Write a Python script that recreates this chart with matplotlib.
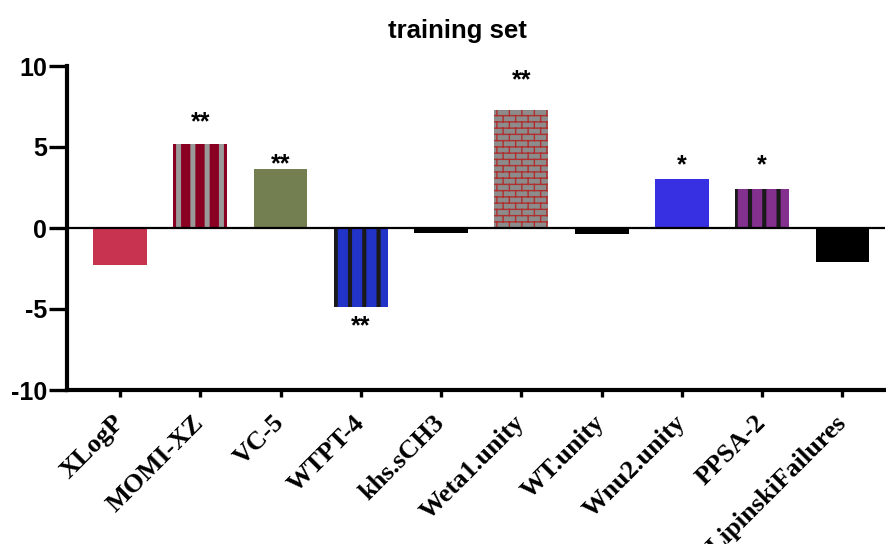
import warnings
import numpy as np
import matplotlib
matplotlib.use('Agg')
import matplotlib.pyplot as plt
from matplotlib import hatch as mhatch
from matplotlib.path import Path

warnings.filterwarnings('ignore')
plt.rcParams['axes.unicode_minus']=False

names=['XLogP','MOMI-XZ','VC-5','WTPT-4','khs.sCH3','Weta1.unity','WT.unity','Wnu2.unity','PPSA-2','LipinskiFailures']
values=[-2.3,5.2,3.65,-4.9,-0.3,7.3,-0.35,3.0,2.4,-2.1]
stars=['','**','**','**','','**','','*','*','']
star_y=[0,6.5,3.95,-6.05,0,9.1,0,3.9,3.9,0]

fills=['#C8344F','#8A0022','#737F50','#2233C8','#000000','#8C8C8C','#000000','#3730E2','#84308F','#000000']
patterns=[None,'k',None,'k',None,'b',None,None,'k',None]
pat_colors=[None,'#9A9A9A',None,'#1A1A1A',None,'#B03030',None,None,'#1A1A1A',None]
pat_widths=[0,3.6,0,3.0,0,1.0,0,0,3.0,0]


# vertical stripes, 7 per hatch tile
class Stripes(mhatch.HatchPatternBase):
    def __init__(self,hatch,density):
        self.n=7 if 'k' in hatch else 0
        self.num_vertices=self.n*2
    def set_vertices_and_codes(self,vertices,codes):
        x=(np.arange(self.n)+0.5)/self.n
        vertices[0::2,0]=x
        vertices[0::2,1]=0
        vertices[1::2,0]=x
        vertices[1::2,1]=1
        codes[0::2]=Path.MOVETO
        codes[1::2]=Path.LINETO


# brick wall pattern
class Bricks(mhatch.HatchPatternBase):
    rows=16
    cols=8
    def __init__(self,hatch,density):
        self.on='b' in hatch
        self.num_vertices=(self.rows*2+self.rows*self.cols*2+self.cols*2) if self.on else 0
    def set_vertices_and_codes(self,vertices,codes):
        segs=[]
        for i in range(self.rows):
            y=(i+0.5)/self.rows
            segs.append(((0,y),(1,y)))
        for i in range(self.rows):
            off=0.5*(i%2)
            for j in range(self.cols):
                x=(j+0.25+off)/self.cols
                if i<self.rows-1:
                    segs.append(((x,(i+0.5)/self.rows),(x,(i+1.5)/self.rows)))
                else:
                    segs.append(((x,(i+0.5)/self.rows),(x,1.0)))
                    segs.append(((x,0.0),(x,0.5/self.rows)))
        for k,(a,b) in enumerate(segs):
            vertices[2*k]=a
            vertices[2*k+1]=b
            codes[2*k]=Path.MOVETO
            codes[2*k+1]=Path.LINETO


mhatch._hatch_types.append(Stripes)
mhatch._hatch_types.append(Bricks)

fig=plt.figure(figsize=(8.86,5.44),dpi=100)
ax=fig.add_axes([67/886,1-390/544,(885-67)/886,(390-66)/544])

x=np.arange(len(names))
for i in range(len(names)):
    if patterns[i] is None:
        ax.bar(x[i],values[i],width=0.67,color=fills[i],linewidth=0,zorder=2)
    else:
        with plt.rc_context({'hatch.linewidth':pat_widths[i]}):
            b=ax.bar(x[i],values[i],width=0.67,color=fills[i],edgecolor=pat_colors[i],
                     linewidth=0,hatch=patterns[i],zorder=2)
            for p in b:
                if hasattr(p,'set_hatch_linewidth'):
                    p.set_hatch_linewidth(pat_widths[i])
    if stars[i]:
        ax.text(x[i],star_y[i],stars[i],ha='center',va='center',fontsize=18,
                fontweight='bold',family='Liberation Sans')

ax.axhline(0,color='black',lw=1.6,zorder=3)

ax.set_xlim(-0.66,9.53)
ax.set_ylim(-10,10)
ax.set_yticks([-10,-5,0,5,10])
ax.set_xticks(x)
ax.set_xticklabels(names,rotation=45,ha='right',va='center',rotation_mode='anchor',
                   fontsize=19,fontweight='bold',family='Liberation Serif')
for lab in ax.get_yticklabels():
    lab.set_fontsize(18)
    lab.set_fontweight('bold')
    lab.set_family('Liberation Sans')

for s in ['top','right']:
    ax.spines[s].set_visible(False)
for s in ['left','bottom']:
    ax.spines[s].set_linewidth(3)
ax.tick_params(axis='y',length=13,width=2.4,pad=1.5)
ax.tick_params(axis='x',length=5,width=2.4,pad=16)

fig.text(457/886,1-31/544,'training set',ha='center',va='center',fontsize=18.5,
         fontweight='bold',family='Liberation Sans')

fig.savefig('out.png',dpi=100)
